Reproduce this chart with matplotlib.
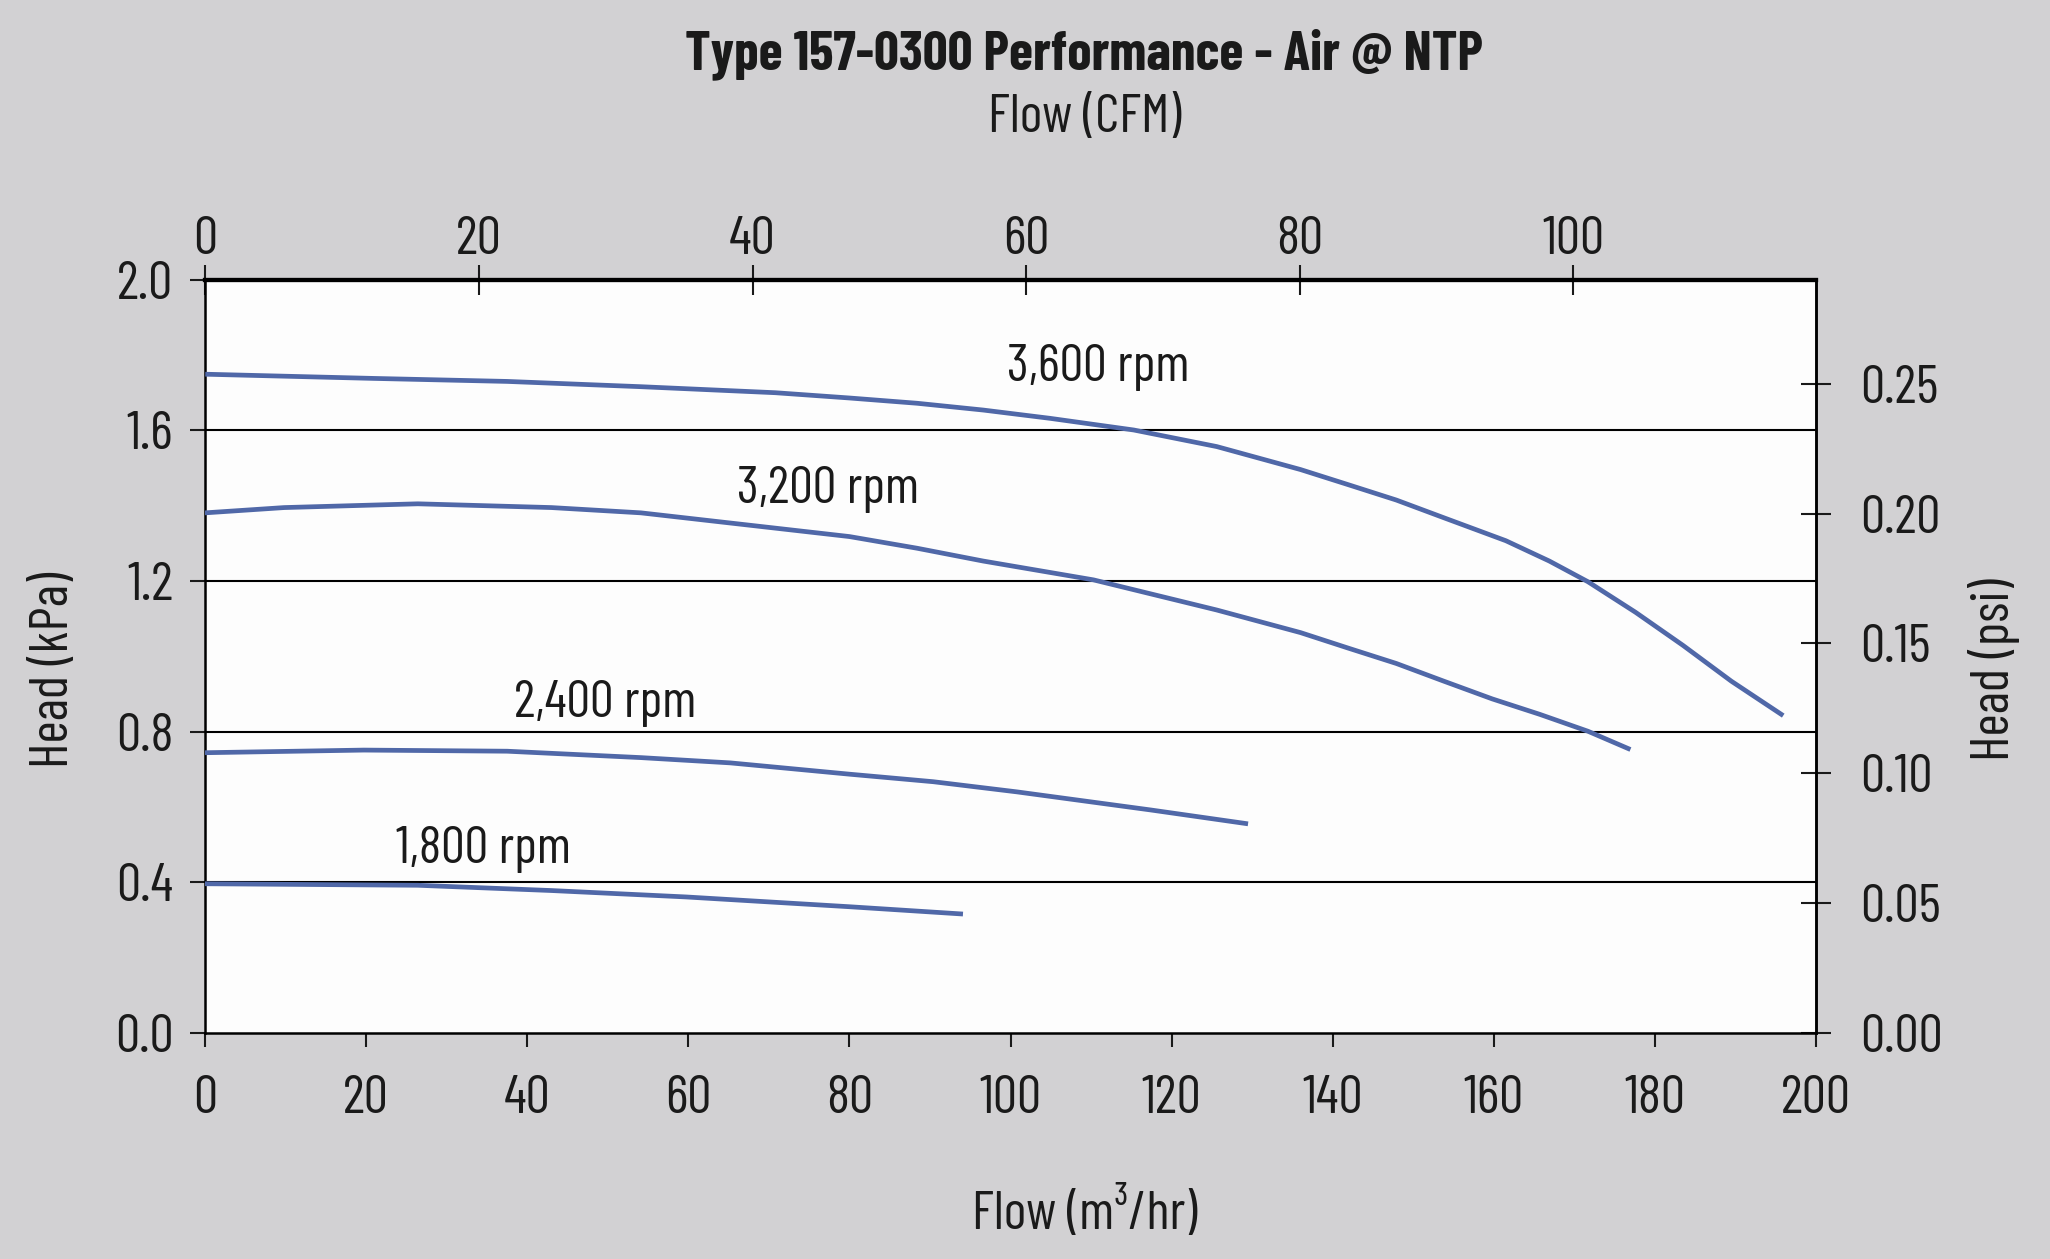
import matplotlib
matplotlib.use("Agg")
import matplotlib.pyplot as plt
from matplotlib.ticker import FormatStrFormatter

# flow (m3/hr) and head (kPa)
flow_3600 = [0.3, 20.9, 37.5, 54.1, 70.8, 80.0, 88.4, 96.6, 104.9, 115.3, 125.6, 136.0,
             141.9, 147.9, 153.8, 161.5, 166.9, 171.7, 177.6, 183.5, 189.5, 195.7]
head_3600 = [1.749, 1.738, 1.730, 1.716, 1.700, 1.686, 1.672, 1.654, 1.632, 1.601, 1.557, 1.496,
             1.456, 1.415, 1.368, 1.307, 1.253, 1.198, 1.117, 1.029, 0.934, 0.846]

flow_3200 = [0, 9.8, 26.4, 43.0, 54.1, 65.2, 80.0, 88.4, 96.6, 110.3, 125.6, 136.0,
             141.9, 147.9, 153.8, 159.8, 165.7, 171.7, 176.7]
head_3200 = [1.381, 1.395, 1.405, 1.395, 1.381, 1.354, 1.318, 1.287, 1.253, 1.203, 1.123, 1.063,
             1.022, 0.981, 0.934, 0.887, 0.846, 0.801, 0.755]

flow_2400 = [0, 19.7, 37.5, 54.1, 65.2, 80.0, 90.4, 100.8, 117.4, 129.2]
head_2400 = [0.744, 0.751, 0.748, 0.731, 0.717, 0.687, 0.667, 0.640, 0.592, 0.556]

flow_1800 = [0, 26.4, 43.0, 59.7, 80.0, 93.8]
head_1800 = [0.396, 0.392, 0.378, 0.361, 0.335, 0.316]

curve_labels = ["3,600 rpm", "3,200 rpm", "2,400 rpm", "1,800 rpm"]
label_pos = [(110.9, 1.768), (77.4, 1.444), (49.7, 0.875), (34.6, 0.486)]

x_ticks = [0, 20, 40, 60, 80, 100, 120, 140, 160, 180, 200]
y_ticks = [0.0, 0.4, 0.8, 1.2, 1.6, 2.0]
cfm_ticks = [0, 20, 40, 60, 80, 100]
psi_ticks = [0.00, 0.05, 0.10, 0.15, 0.20, 0.25]

M3H_PER_CFM = 1.699
KPA_PER_PSI = 6.895

BG = "#d2d1d3"
LINE = "#5068a8"
INK = "#1a1a1a"
FONT = ["Barlow Condensed", "Fira Sans Extra Condensed", "DejaVu Sans"]
FS = 39

plt.rcParams["font.family"] = FONT
plt.rcParams["text.color"] = INK

fig = plt.figure(figsize=(20.5, 12.59), dpi=100, facecolor=BG)
ax = fig.add_axes([0.1001, 0.1796, 0.7857, 0.5982])
ax.set_facecolor("#fdfdfd")

series = [(flow_3600, head_3600), (flow_3200, head_3200),
          (flow_2400, head_2400), (flow_1800, head_1800)]
for (fx, hy), lab, (lx, ly) in zip(series, curve_labels, label_pos):
    ax.plot(fx, hy, color=LINE, lw=3.4, solid_joinstyle="round", zorder=3)
    ax.text(lx, ly, lab, fontsize=38, ha="center", va="center", color=INK)

ax.set_xlim(0, 200)
ax.set_ylim(0, 2.0)
ax.set_xticks(x_ticks)
ax.set_yticks(y_ticks)
ax.yaxis.set_major_formatter(FormatStrFormatter("%.1f"))
for g in y_ticks[1:-1]:
    ax.axhline(g, color="black", lw=1.5, zorder=2)

for side in ["left", "bottom", "right"]:
    ax.spines[side].set_linewidth(1.8)
ax.spines["top"].set_linewidth(3.0)

ax.tick_params(axis="x", direction="out", length=10, width=1.5, pad=20,
               labelsize=FS, colors=INK)
ax.tick_params(axis="y", direction="out", length=11, width=1.5, pad=12,
               labelsize=FS, colors=INK)

top = ax.secondary_xaxis("top", functions=(lambda q: q / M3H_PER_CFM,
                                           lambda q: q * M3H_PER_CFM))
top.set_xticks(cfm_ticks)
top.tick_params(direction="inout", length=21, width=1.5, pad=0,
                labelsize=FS, colors=INK)
top.spines["top"].set_linewidth(3.0)

right = ax.secondary_yaxis("right", functions=(lambda p: p / KPA_PER_PSI,
                                               lambda p: p * KPA_PER_PSI))
right.set_yticks(psi_ticks)
right.yaxis.set_major_formatter(FormatStrFormatter("%.2f"))
right.tick_params(direction="inout", length=21, width=1.5, pad=21,
                  labelsize=FS, colors=INK)
right.spines["right"].set_linewidth(1.8)

fig.text(0.529, 0.957, "Type 157-0300 Performance - Air @ NTP",
         fontsize=39.5, fontweight="bold", ha="center", va="center")
fig.text(0.529, 0.906, "Flow (CFM)", fontsize=FS, ha="center", va="center")
fig.text(0.529, 0.036, "Flow (m³/hr)", fontsize=FS, ha="center", va="center")
fig.text(0.0268, 0.468, "Head (kPa)", fontsize=FS, rotation=90,
         ha="center", va="center")
fig.text(0.9726, 0.468, "Head (psi)", fontsize=FS, rotation=90,
         ha="center", va="center")

fig.savefig("out.png", dpi=100, facecolor=BG)
